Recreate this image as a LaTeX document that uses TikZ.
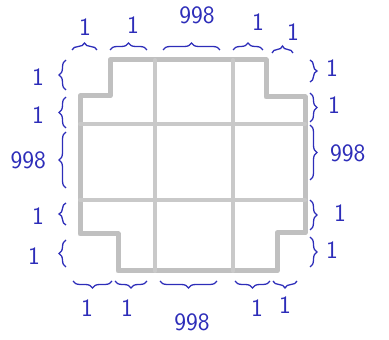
\documentclass[tikz,border=0pt]{standalone}
\usepackage{xcolor}
\usepackage{tikz}
\usetikzlibrary{decorations.pathreplacing}

\definecolor{pen}{RGB}{45,45,185}
\definecolor{pencil}{RGB}{192,192,192}

\begin{document}
\begin{tikzpicture}[x=1pt, y=1pt,
        pencil/.style={draw=pencil, line width=5pt, line join=round, line cap=round},
        thinpencil/.style={draw=pencil!85!white, line width=4pt, line cap=round},
        penbrace/.style={draw=pen, line width=1.3pt, decorate, decoration={brace, amplitude=7pt}},
        lbl/.style={text=pen, inner sep=0pt, font=\sffamily\fontsize{25}{25}\selectfont}]

        \useasboundingbox (0,0) rectangle (389,340);

        % pencil outline with cut corners
        \draw[pencil] (110,280) -- (266,280) -- (266,243) -- (305,243) -- (305,107) -- (277,107)
            -- (277,69) -- (118,69) -- (118,106) -- (80,106) -- (80,244) -- (110,244) -- cycle;
        \draw[thinpencil] (80,216) -- (305,216);
        \draw[thinpencil] (80,140) -- (305,140);
        \draw[thinpencil] (155,280) -- (155,69);
        \draw[thinpencil] (233,280) -- (233,69);

        % top
        \draw[penbrace] (72,290) -- (97,290);
        \draw[penbrace] (110,290) -- (147,290);
        \draw[penbrace] (163,290) -- (220,290);
        \draw[penbrace] (233,290) -- (263,290);
        \draw[penbrace] (272,287) -- (293,287);
        \node (t1) [lbl] at (85,313) {1};
        \node (t2) [lbl] at (133,315) {1};
        \node (t3) [lbl] at (197,325) {998};
        \node (t4) [lbl] at (258,318) {1};
        \node (t5) [lbl] at (293,308) {1};

        % left
        \draw[penbrace] (66,250) -- (66,280);
        \draw[penbrace] (66,212) -- (66,243);
        \draw[penbrace] (66,152) -- (66,208);
        \draw[penbrace] (66,115) -- (66,137);
        \draw[penbrace] (66,73) -- (66,100);
        \node (l1) [lbl, anchor=east] at (44,263) {1};
        \node (l2) [lbl, anchor=east] at (44,225) {1};
        \node (l3) [lbl, anchor=east] at (46,180) {998};
        \node (l4) [lbl, anchor=east] at (44,124) {1};
        \node (l5) [lbl, anchor=east] at (40,84) {1};

        % right
        \draw[penbrace] (310,280) -- (310,258);
        \draw[penbrace] (310,247) -- (310,218);
        \draw[penbrace] (310,215) -- (310,160);
        \draw[penbrace] (310,140) -- (310,110);
        \draw[penbrace] (310,103) -- (310,73);
        \node (r1) [lbl, anchor=west] at (326,272) {1};
        \node (r2) [lbl, anchor=west] at (328,235) {1};
        \node (r3) [lbl, anchor=west] at (330,187) {998};
        \node (r4) [lbl, anchor=west] at (334,127) {1};
        \node (r5) [lbl, anchor=west] at (326,90) {1};

        % bottom
        \draw[penbrace] (112,59) -- (73,59);
        \draw[penbrace] (147,59) -- (115,59);
        \draw[penbrace] (217,59) -- (160,59);
        \draw[penbrace] (270,59) -- (235,59);
        \draw[penbrace] (297,59) -- (273,59);
        \node (b1) [lbl] at (87,32) {1};
        \node (b2) [lbl] at (127,32) {1};
        \node (b3) [lbl] at (192,18) {998};
        \node (b4) [lbl] at (257,32) {1};
        \node (b5) [lbl] at (285,35) {1};
    \end{tikzpicture}
\end{document}
